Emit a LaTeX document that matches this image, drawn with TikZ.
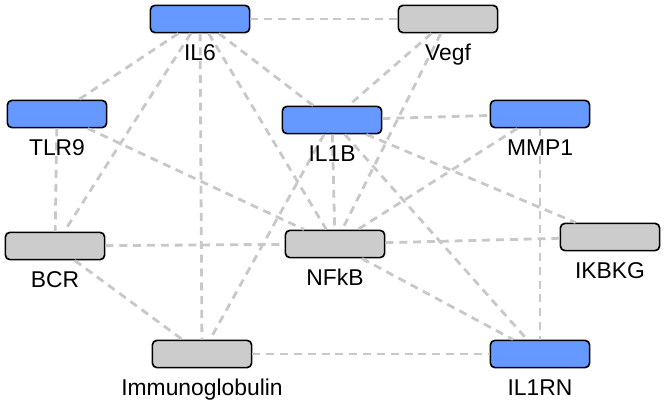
\documentclass[tikz,border=0pt]{standalone}
\usepackage{fontspec}
\setmainfont{Liberation Sans}
\usepackage{tikz}
\definecolor{mblue}{RGB}{102, 153, 255}
\definecolor{mgray}{RGB}{204, 204, 204}
\definecolor{lgray}{RGB}{200, 200, 200}
\tikzset{gene/.style = {draw, line width = 1.4pt, rounded corners = 4pt,
                        minimum width = 2.98cm, minimum height = 0.82cm, inner sep = 0}}
\tikzset{bluebox/.style = {gene, fill = mblue}}
\tikzset{graybox/.style = {gene, fill = mgray}}
\tikzset{link/.style = {lgray, line width = 2.4pt, dash pattern = on 6.8pt off 5pt}}
\tikzset{lbl/.style = {anchor = base, inner sep = 0, font = \fontsize{19.5}{21}\selectfont}}

\begin{document}
\begin{tikzpicture}[x = 0.03cm, y = -0.03cm]
    \useasboundingbox (0, 0) rectangle (666, 404);

    \node [bluebox] (il6) at (200, 19) {};
    \node [graybox] (vegf) at (448, 19) {};
    \node [bluebox] (tlr9) at (57, 114) {};
    \node [bluebox] (il1b) at (332, 120) {};
    \node [bluebox] (mmp1) at (540, 114) {};
    \node [graybox] (bcr) at (55, 246) {};
    \node [graybox] (nfkb) at (335, 244) {};
    \node [graybox] (ikbkg) at (610, 237) {};
    \node [graybox] (igg) at (202, 354) {};
    \node [bluebox] (il1rn) at (540, 354) {};

    % interactions
    \foreach \a/\b in {il6/vegf, il6/tlr9, il6/bcr, il6/igg, il6/nfkb, il6/il1b,
                       vegf/il1b, vegf/nfkb, tlr9/bcr, tlr9/nfkb,
                       il1b/mmp1, il1b/nfkb, il1b/ikbkg, il1b/il1rn, il1b/igg,
                       mmp1/nfkb, mmp1/il1rn, bcr/nfkb, bcr/igg,
                       nfkb/ikbkg, nfkb/il1rn, igg/il1rn}
        \draw [link] (\a) -- (\b);

    \node [lbl] (il6-l) at (200, 61) {IL6};
    \node [lbl] (vegf-l) at (448, 61) {Vegf};
    \node [lbl] (tlr9-l) at (57, 156) {TLR9};
    \node [lbl] (il1b-l) at (332, 162) {IL1B};
    \node [lbl] (mmp1-l) at (540, 156) {MMP1};
    \node [lbl] (bcr-l) at (55, 288) {BCR};
    \node [lbl] (nfkb-l) at (335, 286) {NFkB};
    \node [lbl] (ikbkg-l) at (610, 279) {IKBKG};
    \node [lbl] (igg-l) at (202, 396) {Immunoglobulin};
    \node [lbl] (il1rn-l) at (540, 396) {IL1RN};
\end{tikzpicture}
\end{document}
